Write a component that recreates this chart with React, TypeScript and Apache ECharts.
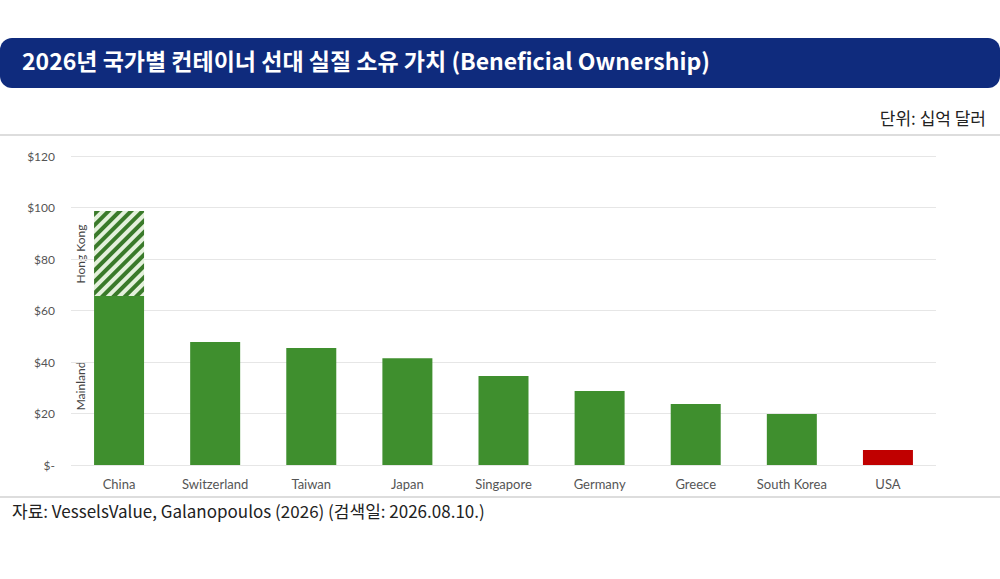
import React, { useEffect, useRef } from "react";
import * as echarts from "echarts";

const categories = ["China", "Switzerland", "Taiwan", "Japan", "Singapore", "Germany", "Greece", "South Korea", "USA"];
const baseValues = [65.6, 47.8, 45.4, 41.5, 34.6, 28.7, 23.7, 19.8, 5.8];
const hongKong = [33, null, null, null, null, null, null, null, null];
const yTicks = [0, 20, 40, 60, 80, 100, 120];

export default function App() {
  const ref = useRef<HTMLDivElement>(null);
  useEffect(() => {
    const chart = echarts.init(ref.current!, undefined, { renderer: "svg" });
    const green = "#3f8f2e";
    chart.setOption({
      animation: false,
      grid: { left: 71, right: 64, top: 156, bottom: 114 },
      xAxis: {
        type: "category",
        data: categories,
        axisLine: { show: false },
        axisTick: { show: false },
        axisLabel: { color: "#555", fontFamily: "Lato", fontSize: 13, margin: 12 },
      },
      yAxis: {
        type: "value",
        min: 0,
        max: 120,
        interval: 20,
        axisLabel: {
          color: "#555",
          fontFamily: "Lato",
          fontSize: 12,
          margin: 16,
          formatter: (v: number) => (v === 0 ? "$-" : "$" + v),
        },
        splitLine: { lineStyle: { color: "#e6e6e6" } },
      },
      series: [
        {
          type: "bar",
          stack: "a",
          barWidth: 50,
          data: baseValues.map((v, i) => ({
            value: v,
            itemStyle: { color: i === 8 ? "#c00000" : green },
          })),
        },
        {
          type: "bar",
          stack: "a",
          barWidth: 50,
          data: hongKong,
          itemStyle: {
            color: "#e4f1dc",
            decal: {
              symbol: "rect",
              symbolSize: 1,
              color: "#3a7a2a",
              dashArrayX: [1, 0],
              dashArrayY: [4, 4],
              rotation: -Math.PI / 4,
            },
          },
        },
      ],
      graphic: [
        { type: "rect", shape: { x: 0, y: 38, width: 1000, height: 50, r: 12 }, style: { fill: "#0f2b7d" } },
        {
          type: "text", left: 22, top: 48,
          style: { text: "2026년 국가별 컨테이너 선대 실질 소유 가치 (Beneficial Ownership)", fill: "#fff", font: "bold 23px 'Noto Sans CJK KR'" },
        },
        { type: "text", right: 14, top: 109, style: { text: "단위: 십억 달러", fill: "#222", font: "17px 'Noto Sans CJK KR'" } },
        { type: "line", shape: { x1: 0, y1: 135, x2: 1000, y2: 135 }, style: { stroke: "#bbb", lineWidth: 1 } },
        { type: "line", shape: { x1: 0, y1: 497, x2: 1000, y2: 497 }, style: { stroke: "#bbb", lineWidth: 1 } },
        {
          type: "text", left: 12, top: 502,
          style: { text: "자료: VesselsValue, Galanopoulos (2026) (검색일: 2026.08.10.)", fill: "#222", font: "17px 'Noto Sans CJK KR'" },
        },
        {
          type: "text", x: 80, y: 254, rotation: Math.PI / 2,
          style: { text: "Hong Kong", fill: "#444", font: "12px Lato", align: "center", verticalAlign: "middle" },
        },
        {
          type: "text", x: 80, y: 386, rotation: Math.PI / 2,
          style: { text: "Mainland", fill: "#444", font: "12px Lato", align: "center", verticalAlign: "middle" },
        },
      ],
    });
    return () => chart.dispose();
  }, []);
  return <div ref={ref} style={{ position: "absolute", left: 0, top: 0, width: 1000, height: 579 }} />;
}
